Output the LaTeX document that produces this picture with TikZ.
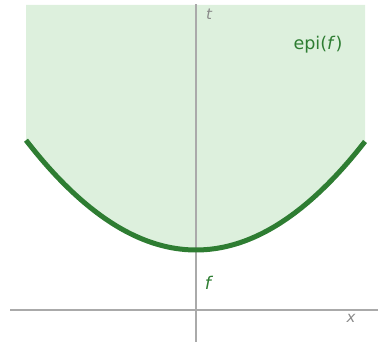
\documentclass[tikz,border=0pt]{standalone}
\usepackage{fontspec}
\setmainfont{DejaVu Sans}
\definecolor{epifill}{HTML}{DDF0DD}
\definecolor{curvegreen}{HTML}{2E7D32}
\definecolor{axisgray}{HTML}{AAAAAA}
\definecolor{labgray}{HTML}{8A8A8A}
\tikzset{
  axisline/.style={draw=axisgray, line width=1.8pt},
  curveline/.style={draw=curvegreen, line width=5pt},
  graylabel/.style={text=labgray, font=\fontsize{15}{17}\selectfont\itshape, inner sep=0pt},
  greenlabel/.style={text=curvegreen, font=\fontsize{17.5}{20}\selectfont, inner sep=0pt}
}
\begin{document}
\begin{tikzpicture}[x=1pt,y=1pt]
\useasboundingbox (0,0) rectangle (378,342);
% epigraph fill
\fill[epifill] (26,337) -- plot[domain=26:365,samples=80,smooth] (\x,{92+0.003806*(\x-196)*(\x-196)}) -- (365,337) -- cycle;
% axes
\coordinate (xl) at (10,32);
\coordinate (xr) at (378,32);
\coordinate (yb) at (196,0);
\coordinate (yt) at (196,338);
\draw[axisline] (xl) -- (xr);
\draw[axisline] (yb) -- (yt);
% curve
\draw[curveline] plot[domain=26:365,samples=80,smooth] (\x,{92+0.003806*(\x-196)*(\x-196)});
% labels
\node[graylabel] (tlab) at (209,328) {t};
\node[graylabel] (xlab) at (351,24) {x};
\node[greenlabel] (flab) at (208,59) {\itshape f};
\node[greenlabel] (epilab) at (318,297) {epi(\textit{f})};
\end{tikzpicture}
\end{document}
